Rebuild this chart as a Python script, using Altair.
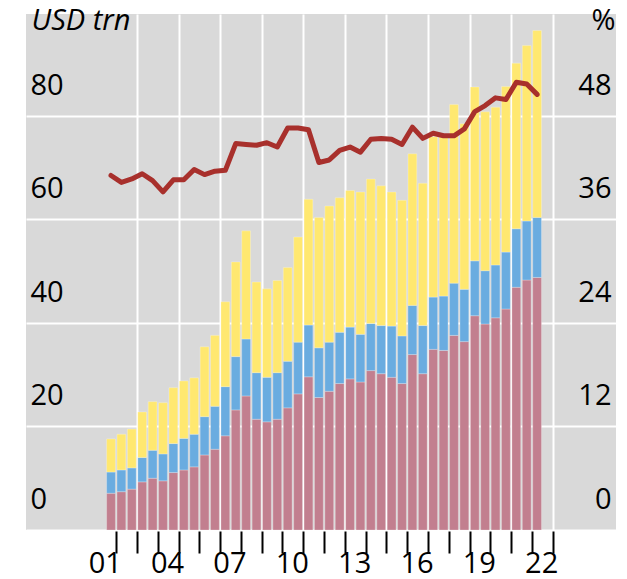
import altair as alt
import pandas as pd

# half-year periods (centre of each half-year), H2 2001 .. H1 2022
periods = [2001.75, 2002.25, 2002.75, 2003.25, 2003.75, 2004.25, 2004.75, 2005.25, 2005.75, 2006.25,
           2006.75, 2007.25, 2007.75, 2008.25, 2008.75, 2009.25, 2009.75, 2010.25, 2010.75, 2011.25,
           2011.75, 2012.25, 2012.75, 2013.25, 2013.75, 2014.25, 2014.75, 2015.25, 2015.75, 2016.25,
           2016.75, 2017.25, 2017.75, 2018.25, 2018.75, 2019.25, 2019.75, 2020.25, 2020.75, 2021.25,
           2021.75, 2022.25]

# USD trn, stacked bottom -> top
bottom_vals = [7.1, 7.4, 7.9, 9.3, 10.0, 9.5, 11.1, 11.6, 12.2, 14.5,
               15.6, 18.2, 23.2, 25.9, 21.4, 20.9, 21.4, 23.6, 26.3, 29.6,
               25.6, 26.8, 28.3, 29.2, 28.6, 30.8, 30.2, 29.5, 28.3, 33.9,
               30.2, 34.9, 34.7, 37.6, 36.4, 41.4, 39.8, 41.0, 42.7, 46.9,
               48.3, 48.8]
middle_vals = [4.1, 4.2, 4.1, 4.7, 5.4, 5.2, 5.6, 6.1, 6.3, 7.4,
               8.3, 9.5, 10.3, 11.0, 9.0, 8.6, 9.0, 9.0, 10.0, 10.0,
               9.6, 9.5, 9.9, 10.0, 9.2, 9.1, 9.3, 9.9, 9.2, 9.5,
               9.3, 10.1, 10.5, 10.1, 10.1, 10.6, 10.3, 10.2, 11.0, 11.3,
               11.4, 11.6]
top_vals = [6.4, 6.9, 7.5, 8.8, 9.4, 9.9, 10.8, 11.1, 10.9, 13.5,
            13.7, 16.4, 18.3, 20.9, 17.5, 17.1, 17.8, 18.1, 20.3, 24.3,
            25.2, 26.3, 26.0, 26.4, 27.5, 27.9, 27.0, 25.9, 26.2, 29.3,
            27.5, 31.0, 30.8, 34.5, 32.0, 33.6, 30.7, 30.5, 32.0, 32.0,
            33.9, 36.1]
# %, right-hand scale
share_pct = [41.1, 40.3, 40.7, 41.3, 40.5, 39.2, 40.6, 40.6, 41.8, 41.2,
             41.6, 41.7, 44.8, 44.7, 44.6, 44.9, 44.4, 46.6, 46.6, 46.4,
             42.6, 42.9, 44.0, 44.4, 43.8, 45.3, 45.4, 45.3, 44.7, 46.7,
             45.4, 46.0, 45.7, 45.7, 46.5, 48.5, 49.2, 50.1, 49.9, 51.9,
             51.7, 50.5]

series_names = ["Bottom", "Middle", "Top"]
series_colors = ["#C27F8F", "#6AACE0", "#FFE870"]
tick_years = [2002, 2003, 2004, 2005, 2006, 2007, 2008, 2009, 2010, 2011, 2012,
              2013, 2014, 2015, 2016, 2017, 2018, 2019, 2020, 2021, 2022, 2023]

rows = []
for i, t in enumerate(periods):
    for k, (name, vals) in enumerate(zip(series_names, [bottom_vals, middle_vals, top_vals])):
        rows.append({"t": t, "series": name, "ord": k, "value": vals[i]})
bars_df = pd.DataFrame(rows)
line_df = pd.DataFrame({"t": periods, "pct": share_pct})

FONT = "Open Sans"
FS = 29

x_scale = alt.Scale(domain=[1997.9, 2025.805], nice=False, zero=False)


def make_x_axis():
    return alt.Axis(
        values=tick_years, title=None, domain=False,
        grid=True, gridWidth=2,
        gridColor={"condition": {"test": "datum.value % 2 === 1", "value": "white"},
                   "value": "transparent"},
        ticks=True, tickSize=22, tickWidth=2, tickColor="black", offset=1,
        labelExpr="(datum.value - 2002) % 3 === 0 ? substring(toString(datum.value - 1), 2) : ''",
        labelOffset=-11.5, labelPadding=-3.5, labelFontSize=FS, labelFont=FONT, labelColor="black",
        labelFlush=False, labelOverlap=False, labelBaseline="top",
    )


bars = alt.Chart(bars_df).mark_bar(size=8.8, stroke="white", strokeWidth=0.5, strokeOpacity=0.5).encode(
    x=alt.X("t:Q", scale=x_scale, axis=make_x_axis()),
    y=alt.Y("value:Q", stack="zero",
            scale=alt.Scale(domain=[0, 99.7], nice=False),
            axis=alt.Axis(values=[0, 20, 40, 60, 80], grid=True, gridColor="white", gridWidth=2,
                          domain=False, ticks=False, labelAlign="left", labelPadding=-4,
                          labelBaseline="middle", labelOffset=-30.5, labelFontSize=FS,
                          labelFont=FONT, labelColor="black",
                          title="USD trn", titleAngle=0, titleX=5, titleY=6, titleAlign="left",
                          titleBaseline="middle", titleFontStyle="italic", titleFontWeight="normal",
                          titleFontSize=FS, titleFont=FONT, titleColor="black")),
    color=alt.Color("series:N", scale=alt.Scale(domain=series_names, range=series_colors), legend=None),
    order=alt.Order("ord:Q", sort="ascending"),
)

line = alt.Chart(line_df).mark_line(color="#A8302C", strokeWidth=5, strokeJoin="round", strokeCap="round").encode(
    x=alt.X("t:Q", scale=x_scale, axis=make_x_axis()),
    y=alt.Y("pct:Q", scale=alt.Scale(domain=[0, 59.82], nice=False),
            axis=alt.Axis(orient="right", values=[0, 12, 24, 36, 48], grid=False, domain=False,
                          ticks=False, labelAlign="right", labelPadding=-5, labelBaseline="middle",
                          labelOffset=-30.5, labelFontSize=FS, labelFont=FONT, labelColor="black",
                          title="%", titleAngle=0, titleX=-1, titleY=6, titleAlign="right",
                          titleBaseline="middle", titleFontWeight="normal", titleFontSize=FS,
                          titleFont=FONT, titleColor="black")),
)

chart = alt.layer(bars, line).resolve_scale(y="independent").properties(
    width=590, height=516,
    autosize=alt.AutoSizeParams(type="none"),
    padding={"left": 18, "top": 6, "right": 3, "bottom": 50},
).configure_view(fill="#D9D9D9", strokeWidth=0)

chart.save("out.html", embed_options={"renderer": "svg", "actions": False})
